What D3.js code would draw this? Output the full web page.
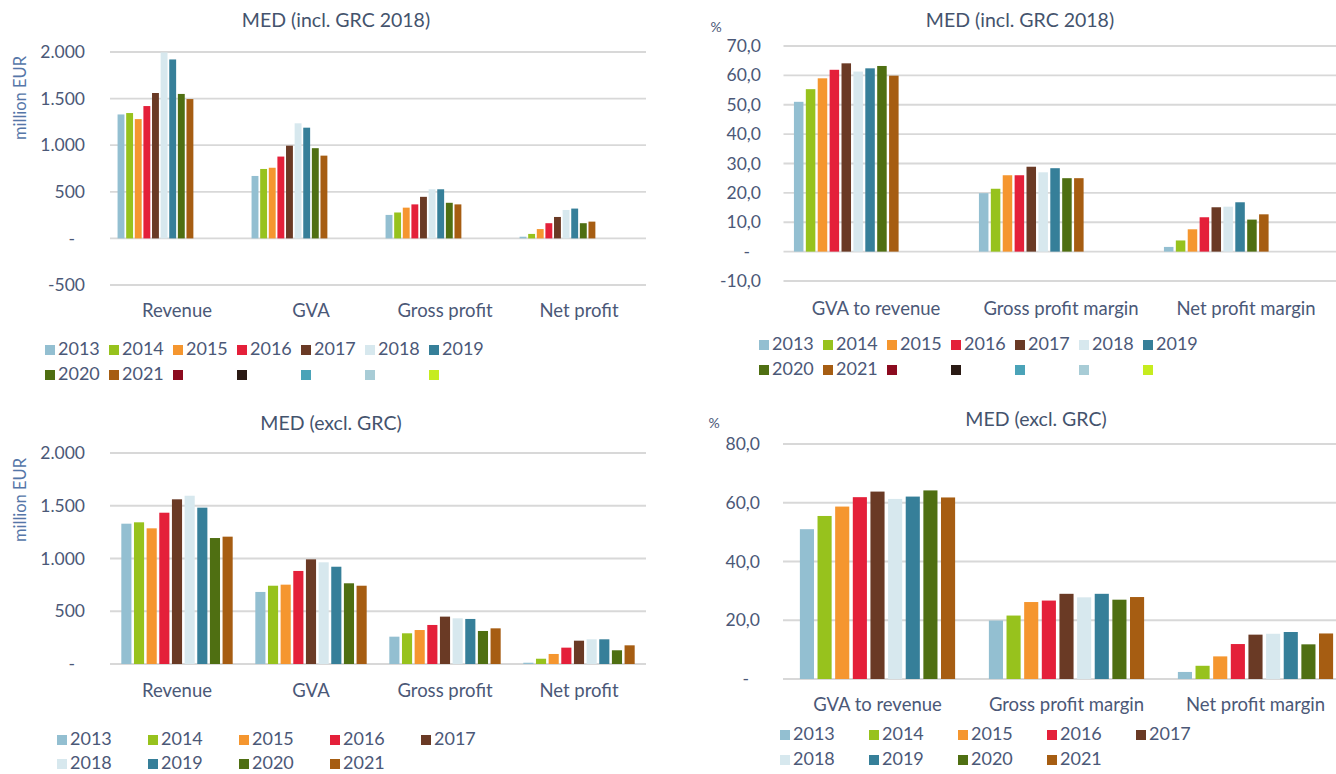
<!DOCTYPE html>
<html>
<head>
<meta charset="utf-8">
<script src="https://cdn.jsdelivr.net/npm/d3@7"></script>
<style>
  html, body { margin: 0; padding: 0; background: #ffffff; }
  svg { display: block; font-family: Lato, "Open Sans", sans-serif; }
</style>
</head>
<body>
<svg id="chart" width="1336" height="774"></svg>
<script>
// ---- data -------------------------------------------------------------
const years = ["2013", "2014", "2015", "2016", "2017", "2018", "2019", "2020", "2021"];
const yearColors = ["#93bfd1", "#97c21d", "#f5962f", "#e4203a", "#6a3a25",
                    "#d7e8ee", "#367f99", "#4f6f12", "#a65d12"];
// legend entries of the source workbook that carry no data
const spareColors = ["#8c0b1f", "#2a1a14", "#4aa3b8", "#a8ccd6", "#c6ec1f"];

const absCategories = ["Revenue", "GVA", "Gross profit", "Net profit"];
const ratioCategories = ["GVA to revenue", "Gross profit margin", "Net profit margin"];

const absTicksIncl = [-500, 0, 500, 1000, 1500, 2000];
const ratioTicksIncl = [-10, 0, 10, 20, 30, 40, 50, 60, 70];
const absTicksExcl = [0, 500, 1000, 1500, 2000];
const ratioTicksExcl = [0, 20, 40, 60, 80];

// MED (incl. GRC 2018), million EUR, 2013..2021
const inclRevenue     = [1330, 1345, 1280, 1420, 1560, 1995, 1920, 1550, 1495];
const inclGVA         = [670, 745, 758, 878, 995, 1235, 1188, 968, 888];
const inclGrossProfit = [252, 278, 330, 365, 446, 527, 527, 382, 365];
const inclNetProfit   = [18, 48, 100, 163, 230, 305, 320, 163, 180];

// MED (incl. GRC 2018), %
const inclGvaToRevenue   = [51.0, 55.3, 59.0, 61.9, 64.1, 61.3, 62.4, 63.2, 59.9];
const inclGrossMargin    = [19.9, 21.4, 26.0, 26.0, 28.9, 27.0, 28.4, 25.0, 25.0];
const inclNetMargin      = [1.6, 3.8, 7.6, 11.7, 15.1, 15.3, 16.8, 10.9, 12.7];

// MED (excl. GRC), million EUR
const exclRevenue     = [1330, 1343, 1286, 1434, 1561, 1595, 1482, 1194, 1207];
const exclGVA         = [683, 742, 752, 882, 992, 964, 922, 765, 742];
const exclGrossProfit = [259, 291, 322, 370, 449, 433, 427, 313, 338];
const exclNetProfit   = [12, 50, 95, 155, 221, 234, 234, 130, 177];

// MED (excl. GRC), %
const exclGvaToRevenue = [51.0, 55.5, 58.7, 61.9, 63.8, 61.3, 62.1, 64.2, 61.8];
const exclGrossMargin  = [19.9, 21.6, 26.2, 26.7, 29.0, 27.8, 29.0, 27.0, 27.9];
const exclNetMargin    = [2.4, 4.5, 7.7, 11.9, 15.1, 15.4, 16.0, 11.8, 15.5];

// ---- formatting ---------------------------------------------------------
const locale = d3.formatLocale({ decimal: ",", thousands: ".", grouping: [3], currency: ["€", ""], minus: "-" });
const fmtAbs = v => v === 0 ? "-" : locale.format(",.0f")(v);
const fmtPct = v => v === 0 ? "-" : locale.format(",.1f")(v);

const TEXT = "#4b5877";
const TITLE = "#44536d";
const UNIT = "#5576a8";
const GRID = "#d8d8d8";

const svg = d3.select("#chart");

function drawPanel(p) {
  const g = svg.append("g");
  const y = d3.scaleLinear().domain(p.yDomain).range([p.yBottom, p.yTop]);
  const x0 = d3.scaleBand().domain(p.categories).range([p.xLeft, p.xRight])
    .paddingInner(p.gap).paddingOuter(p.gap / 2);
  const x1 = d3.scaleBand().domain(d3.range(p.slots)).range([0, x0.bandwidth()])
    .paddingInner(p.barPad).paddingOuter(p.barPad / 2);

  // gridlines
  g.append("g").selectAll("line").data(p.ticks).join("line")
    .attr("x1", p.xLeft).attr("x2", p.gridRight)
    .attr("y1", d => y(d)).attr("y2", d => y(d))
    .attr("stroke", GRID).attr("stroke-width", 1.8);

  // value axis
  const ay = g.append("g").attr("transform", `translate(${p.labelRight},0)`)
    .call(d3.axisLeft(y).tickValues(p.ticks).tickFormat(p.format).tickSize(0).tickPadding(0));
  ay.select(".domain").remove();
  ay.selectAll("text")
    .attr("fill", TEXT).attr("font-size", 17.5).attr("font-family", "Lato")
    .attr("x", d => d === 0 ? -p.zeroShift : 0);

  // bars
  p.categories.forEach((cat, ci) => {
    g.append("g").selectAll("rect").data(p.series[ci]).join("rect")
      .attr("x", (v, j) => x0(cat) + x1(j))
      .attr("width", x1.bandwidth())
      .attr("y", v => y(Math.max(0, v)))
      .attr("height", v => Math.abs(y(v) - y(0)))
      .attr("fill", (v, j) => yearColors[j]);
  });

  // category axis
  const ax = g.append("g").attr("transform", `translate(0,${p.catY})`)
    .call(d3.axisBottom(x0).tickSize(0).tickPadding(0));
  ax.select(".domain").remove();
  ax.selectAll("text").attr("fill", TEXT).attr("font-size", 18.5)
    .attr("font-family", "Lato").attr("dy", "0.35em");

  // title
  g.append("text").attr("x", p.titleX).attr("y", p.titleY)
    .attr("text-anchor", "middle").attr("dominant-baseline", "middle")
    .attr("fill", TITLE).attr("font-size", 19.5).text(p.title);

  // unit label
  if (p.unit === "million EUR") {
    g.append("text").attr("transform", `translate(${p.unitX},${p.unitY}) rotate(-90)`)
      .attr("text-anchor", "middle").attr("dominant-baseline", "middle")
      .attr("fill", UNIT).attr("font-size", 16.5).text(p.unit);
  } else {
    g.append("text").attr("x", p.unitX).attr("y", p.unitY)
      .attr("text-anchor", "middle").attr("dominant-baseline", "middle")
      .attr("fill", TEXT).attr("font-size", 14).text(p.unit);
  }

  // legend
  const entries = years.map((yr, i) => ({ label: yr, color: yearColors[i] }));
  if (p.withSpare) spareColors.forEach(c => entries.push({ label: "", color: c }));
  const lg = g.append("g");
  const item = lg.selectAll("g").data(entries).join("g")
    .attr("transform", (d, i) => `translate(${p.legX + (i % p.legPerRow) * p.legDx},${p.legY + Math.floor(i / p.legPerRow) * p.legDy})`);
  item.append("rect").attr("x", 0).attr("y", -5).attr("width", 10).attr("height", 10)
    .attr("fill", d => d.color);
  item.append("text").attr("x", 13).attr("y", 0).attr("dominant-baseline", "middle")
    .attr("fill", TEXT).attr("font-size", 18).text(d => d.label);
}

drawPanel({
  title: "MED (incl. GRC 2018)", titleX: 336, titleY: 22,
  categories: absCategories,
  series: [inclRevenue, inclGVA, inclGrossProfit, inclNetProfit],
  yDomain: [-500, 2000], yBottom: 285, yTop: 52, ticks: absTicksIncl, format: fmtAbs,
  xLeft: 110, xRight: 646, gridRight: 646, labelRight: 85, zeroShift: 10,
  slots: 14, gap: 0.1, barPad: 0.2, catY: 311,
  unit: "million EUR", unitX: 22, unitY: 98,
  withSpare: true, legX: 45, legDx: 64, legPerRow: 7, legY: 350, legDy: 25
});

drawPanel({
  title: "MED (incl. GRC 2018)", titleX: 1020, titleY: 22,
  categories: ratioCategories,
  series: [inclGvaToRevenue, inclGrossMargin, inclNetMargin],
  yDomain: [-10, 70], yBottom: 281, yTop: 46, ticks: ratioTicksIncl, format: fmtPct,
  xLeft: 783.5, xRight: 1338.5, gridRight: 1336, labelRight: 761, zeroShift: 11,
  slots: 14, gap: 0.1, barPad: 0.2, catY: 309,
  unit: "%", unitX: 716, unitY: 28,
  withSpare: true, legX: 759, legDx: 64, legPerRow: 7, legY: 345, legDy: 25
});

drawPanel({
  title: "MED (excl. GRC)", titleX: 331, titleY: 425,
  categories: absCategories,
  series: [exclRevenue, exclGVA, exclGrossProfit, exclNetProfit],
  yDomain: [0, 2000], yBottom: 664, yTop: 453, ticks: absTicksExcl, format: fmtAbs,
  xLeft: 110, xRight: 646, gridRight: 646, labelRight: 85, zeroShift: 10,
  slots: 9, gap: 0.15, barPad: 0.2, catY: 691,
  unit: "million EUR", unitX: 22, unitY: 500,
  withSpare: false, legX: 57, legDx: 91, legPerRow: 5, legY: 740, legDy: 24
});

drawPanel({
  title: "MED (excl. GRC)", titleX: 1036, titleY: 421,
  categories: ratioCategories,
  series: [exclGvaToRevenue, exclGrossMargin, exclNetMargin],
  yDomain: [0, 80], yBottom: 679, yTop: 444, ticks: ratioTicksExcl, format: fmtPct,
  xLeft: 783, xRight: 1350, gridRight: 1336, labelRight: 760, zeroShift: 11,
  slots: 9, gap: 0.16, barPad: 0.2, catY: 705,
  unit: "%", unitX: 714, unitY: 424,
  withSpare: false, legX: 780, legDx: 89, legPerRow: 5, legY: 735, legDy: 25
});
</script>
</body>
</html>
